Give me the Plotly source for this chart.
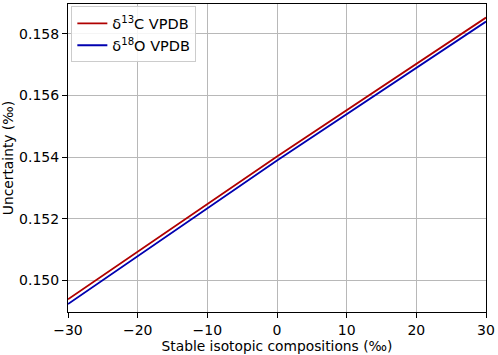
import plotly.graph_objects as go

compositions = [-30, 0, 30]
delta13C_uncertainty = [0.14938, 0.15402, 0.15853]
delta18O_uncertainty = [0.14923, 0.15389, 0.15840]

series_names = ["δ<sup>13</sup>C VPDB", "δ<sup>18</sup>O VPDB"]
x_ticks = [-30, -20, -10, 0, 10, 20, 30]
y_ticks = [0.150, 0.152, 0.154, 0.156, 0.158]

fig = go.Figure()
fig.add_trace(go.Scatter(x=compositions, y=delta13C_uncertainty, mode="lines",
                         name=series_names[0], line=dict(color="#b00000", width=1.8)))
fig.add_trace(go.Scatter(x=compositions, y=delta18O_uncertainty, mode="lines",
                         name=series_names[1], line=dict(color="#0000b0", width=1.8)))

axis_common = dict(showline=True, linecolor="black", linewidth=1, mirror=True,
                   ticks="outside", ticklen=5, tickcolor="black",
                   showgrid=True, gridcolor="#b8b8b8", gridwidth=1, zeroline=False,
                   tickfont=dict(size=14, color="black"))

fig.update_layout(
    width=498, height=355,
    margin=dict(l=68, r=9, t=3, b=43),
    paper_bgcolor="white", plot_bgcolor="white",
    font=dict(family="DejaVu Sans", size=13.8, color="black"),
    showlegend=True,
    legend=dict(x=0.008, y=0.992, xanchor="left", yanchor="top",
                bgcolor="rgba(255,255,255,0.85)", bordercolor="#cccccc", borderwidth=1,
                font=dict(size=14.5), tracegroupgap=0),
    xaxis=dict(range=[-30, 30], tickvals=x_ticks,
               title=dict(text="Stable isotopic compositions (‰)", standoff=2, font=dict(size=13.8)),
               **axis_common),
    yaxis=dict(range=[0.14897, 0.15897], tickvals=y_ticks, tickformat=".3f",
               title=dict(text="Uncertainty (‰)", standoff=2, font=dict(size=13.8)),
               **axis_common),
)

fig.write_html("out.html", config={"displayModeBar": False},
               post_script="document.body.style.margin='0';document.body.style.padding='0';")
